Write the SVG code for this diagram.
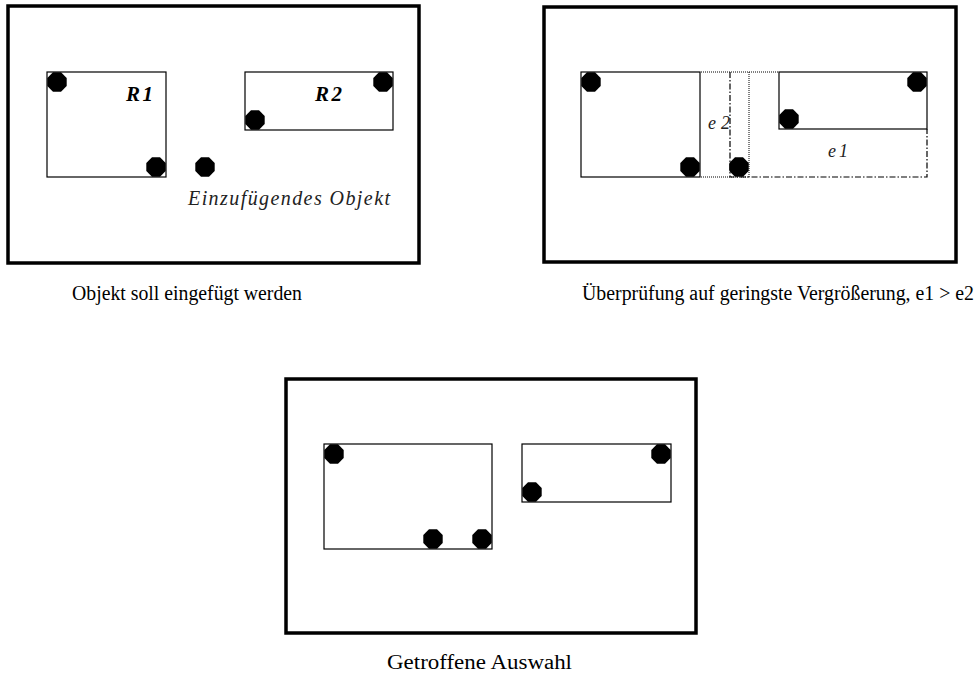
<svg xmlns="http://www.w3.org/2000/svg" width="976" height="677" viewBox="0 0 976 677">
  <style>
    .frame { fill: none; stroke: #000; stroke-width: 3.5; }
    .box { fill: none; stroke: #000; stroke-width: 1.2; }
    .dot { fill: #000; }
    .dotted { fill: none; stroke: #000; stroke-width: 1; stroke-dasharray: 1 1; }
    .dashdot { fill: none; stroke: #000; stroke-width: 1.2; stroke-dasharray: 6 2 1.5 2; }
    .caption { font-family: "Liberation Serif", "Times New Roman", serif; font-size: 20px; fill: #000; }
    .label { font-family: "Liberation Serif", "Times New Roman", serif; font-style: italic; font-weight: bold; font-size: 21px; fill: #000; }
    .note { font-family: "Liberation Serif", "Times New Roman", serif; font-style: italic; font-size: 20px; fill: #222; }
    .small { font-size: 18px; }
  </style>
  <defs>
    <!-- octagonal point marker, radius ~10.5 -->
    <polygon id="pt" class="dot" points="9.7,4 4,9.7 -4,9.7 -9.7,4 -9.7,-4 -4,-9.7 4,-9.7 9.7,-4"/>
  </defs>

  <rect width="976" height="677" fill="#fff"/>

  <!-- Step 1: object to insert -->
  <g id="step1">
    <rect class="frame" x="8" y="6" width="411" height="257"/>
    <g id="step1-r1">
      <rect class="box" x="47" y="72" width="119" height="105"/>
      <use href="#pt" x="57" y="82"/>
      <use href="#pt" x="156" y="167"/>
      <text class="label" x="126" y="101" textLength="27">R1</text>
    </g>
    <g id="step1-r2">
      <rect class="box" x="245" y="72" width="148" height="58"/>
      <use href="#pt" x="383" y="82"/>
      <use href="#pt" x="255" y="120"/>
      <text class="label" x="315" y="101" textLength="27">R2</text>
    </g>
    <g id="step1-new">
      <use href="#pt" x="205" y="167"/>
      <text class="note" x="188" y="205" textLength="202" lengthAdjust="spacing">Einzufügendes Objekt</text>
    </g>
    <text class="caption" x="72" y="300" textLength="230" lengthAdjust="spacingAndGlyphs">Objekt soll eingefügt werden</text>
  </g>

  <!-- Step 2: check least enlargement -->
  <g id="step2">
    <rect class="frame" x="544" y="7" width="412" height="255"/>
    <g id="step2-r1">
      <rect class="box" x="581" y="72" width="119" height="105"/>
      <use href="#pt" x="591" y="82"/>
      <use href="#pt" x="690" y="167"/>
    </g>
    <g id="step2-r2">
      <rect class="box" x="779" y="72" width="148" height="57"/>
      <use href="#pt" x="917" y="82"/>
      <use href="#pt" x="789" y="119"/>
    </g>
    <g id="step2-new">
      <use href="#pt" x="739" y="167"/>
    </g>
    <!-- enlargement outlines -->
    <g id="connectors">
      <path class="dotted" d="M701 72 H779 M701 177 H749 M749 72 V177"/>
      <path class="dashdot" d="M730 72 V177 H927 V129"/>
    </g>
    <text class="note small" x="708" y="129" textLength="22" lengthAdjust="spacing">e2</text>
    <text class="note small" x="828" y="157" textLength="20" lengthAdjust="spacing">e1</text>
    <text class="caption" x="582" y="300" textLength="392" lengthAdjust="spacingAndGlyphs">Überprüfung auf geringste Vergrößerung, e1 &gt; e2</text>
  </g>

  <!-- Step 3: chosen result -->
  <g id="step3">
    <rect class="frame" x="286" y="379" width="410" height="254"/>
    <g id="step3-r1">
      <rect class="box" x="324" y="444" width="168" height="105"/>
      <use href="#pt" x="334" y="454"/>
      <use href="#pt" x="433" y="539"/>
      <use href="#pt" x="482" y="539"/>
    </g>
    <g id="step3-r2">
      <rect class="box" x="522" y="444" width="149" height="58"/>
      <use href="#pt" x="661" y="454"/>
      <use href="#pt" x="532" y="492"/>
    </g>
    <text class="caption" x="387" y="669" textLength="185" lengthAdjust="spacingAndGlyphs">Getroffene Auswahl</text>
  </g>
</svg>
